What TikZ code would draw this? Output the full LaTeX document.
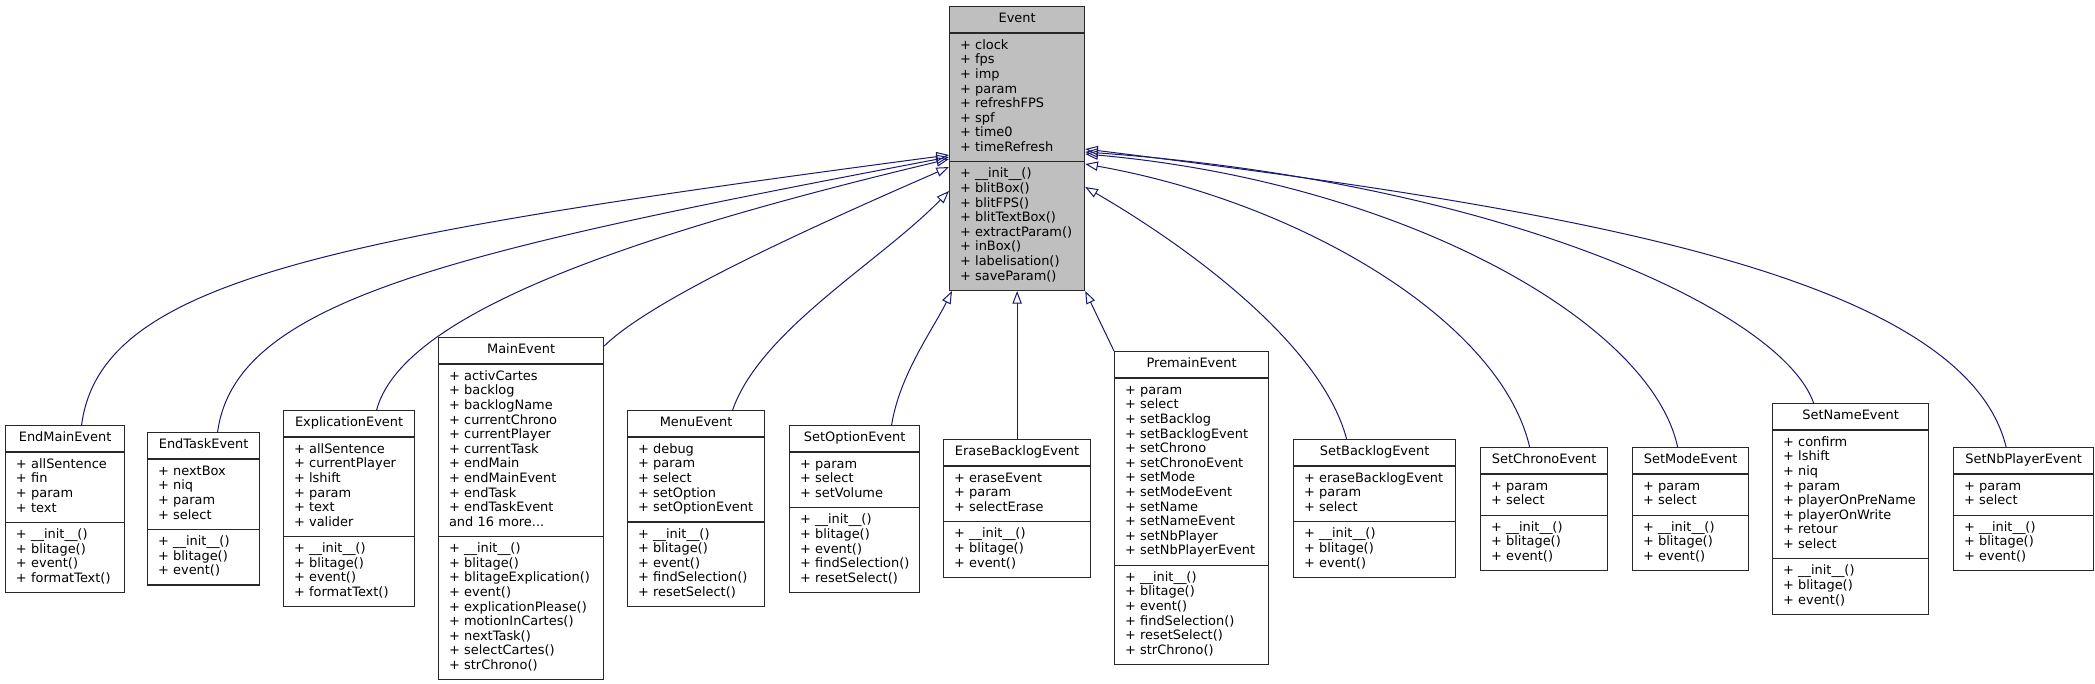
\documentclass[tikz,border=0pt]{standalone}
\usepackage{fontspec}
\setmainfont{DejaVu Sans}
\usetikzlibrary{arrows.meta, shapes.multipart, calc}
\definecolor{mynavy}{RGB}{25,25,112}
\definecolor{mygrey}{RGB}{191,191,191}
\definecolor{myborder}{RGB}{40,40,40}
\newcommand{\classfont}{\fontsize{9.7pt}{10.95pt}\selectfont}
\newcommand{\memb}[1]{\strut\mbox{+ #1}}
\newcommand{\clsname}[1]{\hfill\strut#1\hfill\null}
\tikzset{
  classbox/.style={rectangle split, rectangle split parts=3, draw=myborder, line width=0.9pt,
    fill=white, inner xsep=7.8pt, inner ysep=4pt, text width=#1, align=left,
    anchor=north west, font=\classfont},
  inherit/.style={mynavy, line width=0.75pt, -{Triangle[open, length=9.5pt, width=7pt]}}
}

\begin{document}
\begin{tikzpicture}[x=0.75pt, y=-0.75pt]
            \useasboundingbox (0,0) rectangle (2095,683);
            \node[classbox=85.65pt, fill=mygrey] (event) at (949,6) {\clsname{Event}
              \nodepart{second}\memb{clock}\\\memb{fps}\\\memb{imp}\\\memb{param}\\\memb{refreshFPS}\\\memb{spf}\\\memb{time0}\\\memb{timeRefresh}
              \nodepart{third}\memb{\_\_init\_\_()}\\\memb{blitBox()}\\\memb{blitFPS()}\\\memb{blitTextBox()}\\\memb{extractParam()}\\\memb{inBox()}\\\memb{labelisation()}\\\memb{saveParam()}};
            \node[classbox=73.65pt] (endmain) at (5,425) {\clsname{EndMainEvent}
              \nodepart{second}\memb{allSentence}\\\memb{fin}\\\memb{param}\\\memb{text}
              \nodepart{third}\memb{\_\_init\_\_()}\\\memb{blitage()}\\\memb{event()}\\\memb{formatText()}};
            \node[classbox=68.4pt] (endtask) at (147,432) {\clsname{EndTaskEvent}
              \nodepart{second}\memb{nextBox}\\\memb{niq}\\\memb{param}\\\memb{select}
              \nodepart{third}\memb{\_\_init\_\_()}\\\memb{blitage()}\\\memb{event()}};
            \node[classbox=82.65pt] (explication) at (283,410) {\clsname{ExplicationEvent}
              \nodepart{second}\memb{allSentence}\\\memb{currentPlayer}\\\memb{lshift}\\\memb{param}\\\memb{text}\\\memb{valider}
              \nodepart{third}\memb{\_\_init\_\_()}\\\memb{blitage()}\\\memb{event()}\\\memb{formatText()}};
            \node[classbox=108.15pt] (mainev) at (438,337) {\clsname{MainEvent}
              \nodepart{second}\memb{activCartes}\\\memb{backlog}\\\memb{backlogName}\\\memb{currentChrono}\\\memb{currentPlayer}\\\memb{currentTask}\\\memb{endMain}\\\memb{endMainEvent}\\\memb{endTask}\\\memb{endTaskEvent}\\\strut and 16 more...
              \nodepart{third}\memb{\_\_init\_\_()}\\\memb{blitage()}\\\memb{blitageExplication()}\\\memb{event()}\\\memb{explicationPlease()}\\\memb{motionInCartes()}\\\memb{nextTask()}\\\memb{selectCartes()}\\\memb{strChrono()}};
            \node[classbox=87.15pt] (menu) at (627,410) {\clsname{MenuEvent}
              \nodepart{second}\memb{debug}\\\memb{param}\\\memb{select}\\\memb{setOption}\\\memb{setOptionEvent}
              \nodepart{third}\memb{\_\_init\_\_()}\\\memb{blitage()}\\\memb{event()}\\\memb{findSelection()}\\\memb{resetSelect()}};
            \node[classbox=81.9pt] (setoption) at (789,425) {\clsname{SetOptionEvent}
              \nodepart{second}\memb{param}\\\memb{select}\\\memb{setVolume}
              \nodepart{third}\memb{\_\_init\_\_()}\\\memb{blitage()}\\\memb{event()}\\\memb{findSelection()}\\\memb{resetSelect()}};
            \node[classbox=94.65pt] (erase) at (943,439) {\clsname{EraseBacklogEvent}
              \nodepart{second}\memb{eraseEvent}\\\memb{param}\\\memb{selectErase}
              \nodepart{third}\memb{\_\_init\_\_()}\\\memb{blitage()}\\\memb{event()}};
            \node[classbox=99.9pt] (premain) at (1114,351) {\clsname{PremainEvent}
              \nodepart{second}\memb{param}\\\memb{select}\\\memb{setBacklog}\\\memb{setBacklogEvent}\\\memb{setChrono}\\\memb{setChronoEvent}\\\memb{setMode}\\\memb{setModeEvent}\\\memb{setName}\\\memb{setNameEvent}\\\memb{setNbPlayer}\\\memb{setNbPlayerEvent}
              \nodepart{third}\memb{\_\_init\_\_()}\\\memb{blitage()}\\\memb{event()}\\\memb{findSelection()}\\\memb{resetSelect()}\\\memb{strChrono()}};
            \node[classbox=105.9pt] (setbacklog) at (1293,439) {\clsname{SetBacklogEvent}
              \nodepart{second}\memb{eraseBacklogEvent}\\\memb{param}\\\memb{select}
              \nodepart{third}\memb{\_\_init\_\_()}\\\memb{blitage()}\\\memb{event()}};
            \node[classbox=79.65pt] (setchrono) at (1480,447) {\clsname{SetChronoEvent}
              \nodepart{second}\memb{param}\\\memb{select}
              \nodepart{third}\memb{\_\_init\_\_()}\\\memb{blitage()}\\\memb{event()}};
            \node[classbox=71.4pt] (setmode) at (1632,447) {\clsname{SetModeEvent}
              \nodepart{second}\memb{param}\\\memb{select}
              \nodepart{third}\memb{\_\_init\_\_()}\\\memb{blitage()}\\\memb{event()}};
            \node[classbox=101.4pt] (setname) at (1772,403) {\clsname{SetNameEvent}
              \nodepart{second}\memb{confirm}\\\memb{lshift}\\\memb{niq}\\\memb{param}\\\memb{playerOnPreName}\\\memb{playerOnWrite}\\\memb{retour}\\\memb{select}
              \nodepart{third}\memb{\_\_init\_\_()}\\\memb{blitage()}\\\memb{event()}};
            \node[classbox=89.4pt] (setnbplayer) at (1953,447) {\clsname{SetNbPlayerEvent}
              \nodepart{second}\memb{param}\\\memb{select}
              \nodepart{third}\memb{\_\_init\_\_()}\\\memb{blitage()}\\\memb{event()}};
            \draw[inherit] ($(endmain.north)+(16.5,0)$) .. controls +(19,-145) and +(-619,82) .. ($(event.west)+(0,6.5)$);
            \draw[inherit] ($(endtask.north)+(14,0)$) .. controls +(18,-132) and +(-499,95) .. ($(event.west)+(0,8.5)$);
            \draw[inherit] ($(explication.north)+(27.5,0)$) .. controls +(24,-90) and +(-349,83) .. ($(event.west)+(0,10.5)$);
            \draw[inherit] ($(mainev.north east)+(0,9)$) .. controls +(47,-46) and +(-149,65) .. ($(event.west)+(0,18.5)$);
            \draw[inherit] ($(menu.north)+(36.5,0)$) .. controls +(28,-80) and +(-69,71) .. ($(event.west)+(0,42.5)$);
            \draw[inherit] ($(setoption.north)+(37,0)$) .. controls +(8,-50) and +(-20,40) .. ($(event.south west)+(3,0)$);
            \draw[inherit] (erase.north) -- (event.south);
            \draw[inherit] (premain.north west) -- (event.south east);
            \draw[inherit] ($(setbacklog.north)+(-28,0)$) .. controls +(-26,-98) and +(95,55) .. ($(event.east)+(0,38.5)$);
            \draw[inherit] ($(setchrono.north)+(-14.5,0)$) .. controls +(-29,-126) and +(215,38) .. ($(event.east)+(0,15.5)$);
            \draw[inherit] ($(setmode.north)+(-13,0)$) .. controls +(-27,-126) and +(315,28) .. ($(event.east)+(0,5.5)$);
            \draw[inherit] ($(setname.north)+(-37,0)$) .. controls +(-32,-92) and +(415,30) .. ($(event.east)+(0,3.5)$);
            \draw[inherit] ($(setnbplayer.north)+(-17.5,0)$) .. controls +(-43,-176) and +(465,58) .. ($(event.east)+(0,0.5)$);
        \end{tikzpicture}
\end{document}
